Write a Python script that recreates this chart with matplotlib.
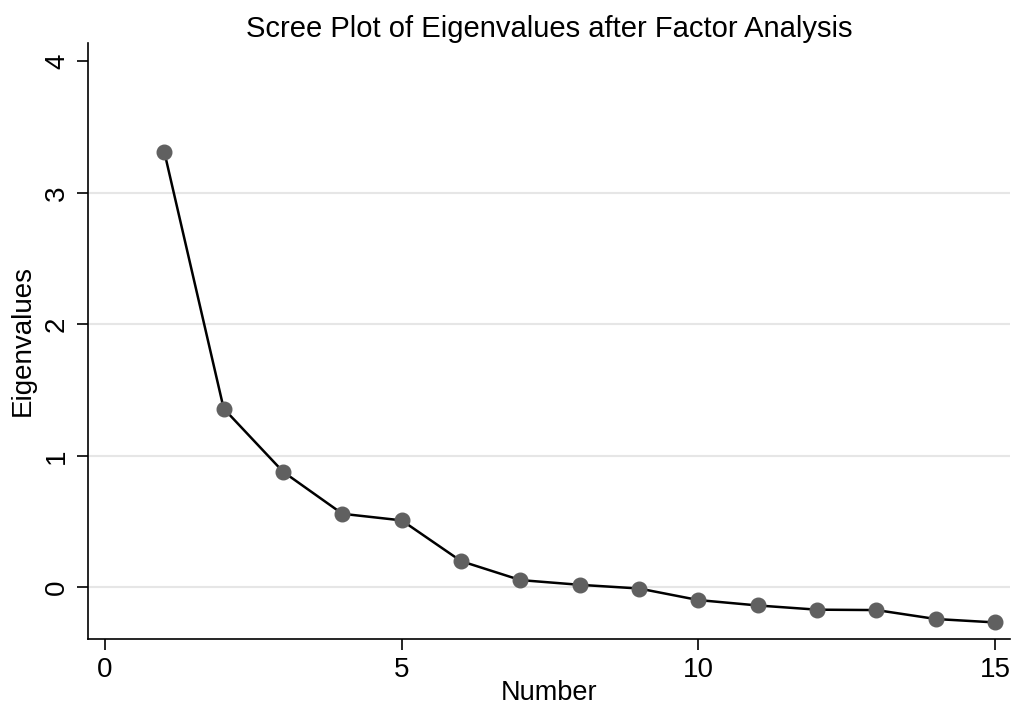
import matplotlib
matplotlib.use("Agg")
import matplotlib.pyplot as plt

plt.rcParams['font.family'] = ['Liberation Sans', 'DejaVu Sans']

factor_number = list(range(1, 16))
eigenvalues = [3.31, 1.36, 0.88, 0.56, 0.51, 0.20, 0.056, 0.020, -0.008,
               -0.096, -0.137, -0.169, -0.172, -0.240, -0.266]
x_ticks = [0, 5, 10, 15]
y_ticks = [0, 1, 2, 3, 4]
grid_values = [0, 1, 2, 3]

fig = plt.figure(figsize=(10.13, 7.06), dpi=100)
ax = fig.add_axes([88/1013, 1 - 639/706, (1010-88)/1013, (639-43)/706])

for g in grid_values:
    ax.axhline(g, color='#e6e6e6', lw=1.5, zorder=0)

ax.plot(factor_number, eigenvalues, color='black', lw=1.8, marker='o',
        markersize=10.5, markerfacecolor='#606060', markeredgecolor='#606060', zorder=3)

ax.set_xlim(-0.287, 15.25)
ax.set_ylim(-0.392, 4.14)
ax.set_xticks(x_ticks)
ax.set_yticks(y_ticks)
ax.set_yticklabels([str(v) for v in y_ticks], rotation=90, va='center')
ax.tick_params(axis='both', labelsize=20, length=8, width=1.2, color='black', pad=5)
for side in ['top', 'right']:
    ax.spines[side].set_visible(False)
for side in ['left', 'bottom']:
    ax.spines[side].set_linewidth(1.2)

ax.set_xlabel('Number', fontsize=19.5, labelpad=-2.5)
ax.set_ylabel('Eigenvalues', fontsize=20, labelpad=6)
ax.set_title('Scree Plot of Eigenvalues after Factor Analysis', fontsize=21, pad=4)

fig.savefig('out.png', dpi=100)
